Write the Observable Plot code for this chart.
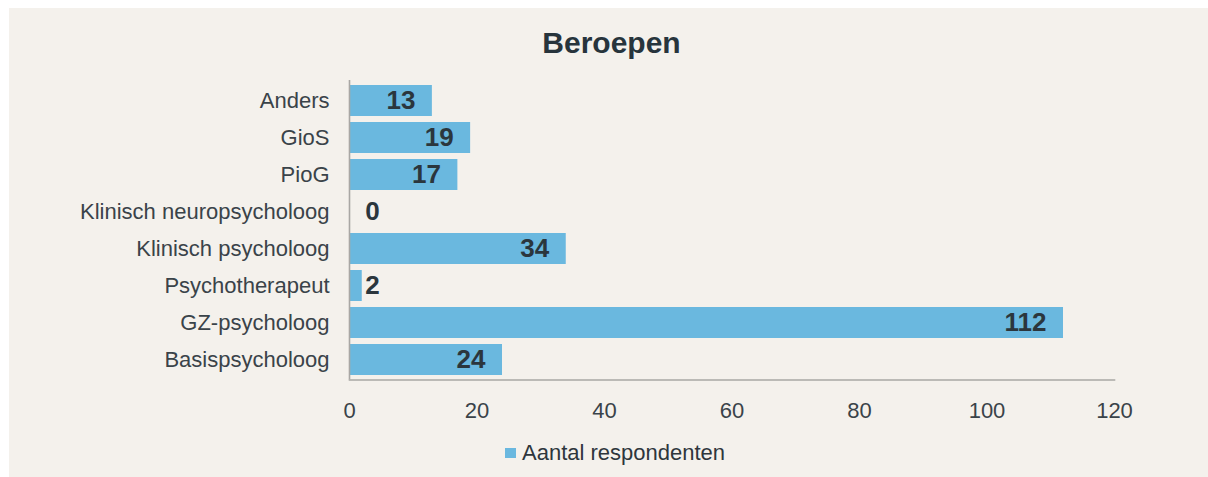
<!DOCTYPE html>
<html>
<head>
<meta charset="utf-8">
<script src="https://cdn.jsdelivr.net/npm/d3@7"></script>
<script src="https://cdn.jsdelivr.net/npm/@observablehq/plot@0.6"></script>
<style>
  html, body { margin: 0; padding: 0; background: #ffffff; }
  body { width: 1208px; height: 477px; position: relative; overflow: hidden; font-family: "Liberation Sans", Arial, sans-serif; }
  #panel { position: absolute; left: 9px; top: 8px; width: 1199px; height: 469px; background: #f4f1ec; }
  #title { position: absolute; left: 0; top: 0; width: 1199px; height: 64px; }
  #title span { position: absolute; left: 0; width: 1205px; text-align: center; top: 20px; font-size: 30px; line-height: 30px; font-weight: bold; color: #27343c; }
  #chart { position: absolute; left: 0; top: 64px; width: 1199px; height: 358px; }
  #legend { position: absolute; left: 0; top: 422px; width: 1199px; height: 47px; }
  #legend .sw { position: absolute; left: 496px; top: 18px; width: 11px; height: 10px; background: #6ab8df; }
  #legend .lb { position: absolute; left: 513px; top: 12px; font-size: 22px; line-height: 22px; color: #2e363c; }
</style>
</head>
<body>
<div id="panel">
  <div id="title"><span>Beroepen</span></div>
  <div id="chart"></div>
  <div id="legend"><div class="sw"></div><div class="lb">Aantal respondenten</div></div>
</div>
<script>
const categories = ["Anders", "GioS", "PioG", "Klinisch neuropsycholoog", "Klinisch psycholoog", "Psychotherapeut", "GZ-psycholoog", "Basispsycholoog"];
const values = [13, 19, 17, 0, 34, 2, 112, 24];
const xTicks = [0, 20, 40, 60, 80, 100, 120];
const seriesName = "Aantal respondenten";

const data = categories.map((c, i) => ({category: c, value: values[i]}));
const inside = data.filter(d => d.value >= 5);
const outside = data.filter(d => d.value < 5);

const chart = Plot.plot({
  width: 1199,
  height: 358,
  marginTop: 8,
  marginBottom: 50.5,
  marginLeft: 340,
  marginRight: 94,
  style: { background: "transparent", fontFamily: "'Liberation Sans', Arial, sans-serif" },
  x: { domain: [0, 120] },
  y: { domain: categories, padding: 0.17, paddingOuter: 0.085 },
  marks: [
    Plot.barX(data, { x: "value", y: "category", fill: "#6ab8df" }),
    Plot.ruleX([0], { stroke: "#a9a7a4", strokeWidth: 1.6 }),
    Plot.frame({ anchor: "bottom", stroke: "#a9a7a4", strokeWidth: 1.6 }),
    Plot.axisX({ ticks: xTicks, tickSize: 0, tickPadding: 22, fontSize: 22, color: "#3a4349", label: null }),
    Plot.axisY({ tickSize: 0, tickPadding: 20, fontSize: 22, color: "#3a4349", label: null }),
    Plot.text(inside, { x: "value", y: "category", text: d => String(d.value), textAnchor: "end", dx: -17, fontSize: 26, fontWeight: "bold", fill: "#2b363d" }),
    Plot.text(outside, { x: 0, y: "category", text: d => String(d.value), textAnchor: "middle", dx: 23, fontSize: 26, fontWeight: "bold", fill: "#2b363d" })
  ]
});
document.getElementById("chart").appendChild(chart);
</script>
</body>
</html>
